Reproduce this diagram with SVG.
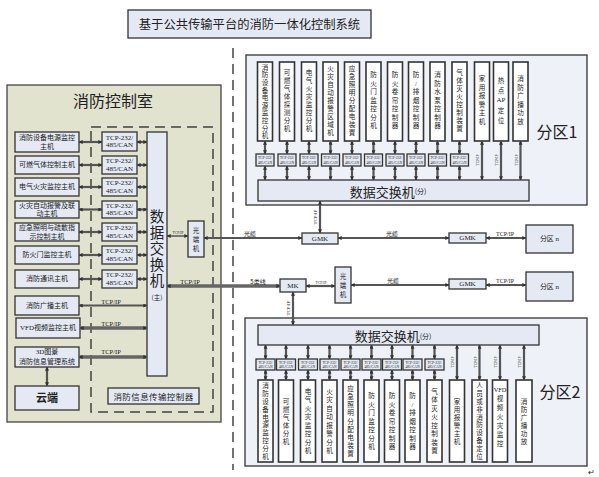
<svg xmlns="http://www.w3.org/2000/svg" width="599" height="477" viewBox="0 0 599 477">
<style>
text{font-family:"Liberation Serif","Noto Sans CJK SC",serif;fill:#222}
.cj{font-family:"Noto Sans CJK SC","Liberation Sans",sans-serif}
.m{text-anchor:middle;dominant-baseline:central}
.box{fill:#e4e9f4;stroke:#333;stroke-width:1.3}
.wb{fill:#fff;stroke:#333;stroke-width:1.6}
.pnl{fill:#eef1f7;stroke:#333;stroke-width:1.3}
.c{stroke:#555;stroke-width:2.2;fill:none;marker-start:url(#a);marker-end:url(#a)}
.th{stroke:#666;stroke-width:3.4}
.tn{stroke-width:1.5}
.dash{stroke:#444;stroke-width:1.5;stroke-dasharray:10 6;fill:none}
.s7{font-size:7px}.s4{font-size:3.6px}.sv{font-size:6.6px}.sl{font-size:5px}
</style>
<defs>
<marker id="a" viewBox="0 0 6 6" refX="5.5" refY="3" markerWidth="4" markerHeight="4" markerUnits="userSpaceOnUse" orient="auto-start-reverse"><path d="M0,0 L6,3 L0,6 z" fill="#333"/></marker>
</defs>
<rect width="599" height="477" fill="#fff"/>

<g id="title">
<rect x="128" y="10" width="243" height="28" class="box" fill="#eef0f5"/>
<text x="249.5" y="24" class="m cj" font-size="12.3">基于公共传输平台的消防一体化控制系统</text>
</g>

<line x1="233" y1="48" x2="233" y2="470" class="dash"/>

<g id="control-room">
<rect x="7" y="85" width="214" height="337" fill="#e1e3cf" stroke="#444" stroke-width="1.3"/>
<text x="113" y="100" class="m cj" font-size="16">消防控制室</text>
<rect x="91" y="127" width="122" height="285" class="dash"/>
</g>

<g id="cr-devices" class="cj">
<g id="cr1"><rect x="15" y="132" width="64" height="20" class="box"/><text x="47" y="138" class="m s7">消防设备电源监控</text><text x="47" y="146.5" class="m s7">主机</text></g>
<g id="cr2"><rect x="15" y="156" width="64" height="18" class="box"/><text x="47" y="165" class="m s7">可燃气体控制主机</text></g>
<g id="cr3"><rect x="15" y="178" width="64" height="18" class="box"/><text x="47" y="187" class="m s7">电气火灾监控主机</text></g>
<g id="cr4"><rect x="15" y="201" width="64" height="17" class="box"/><text x="47" y="205.5" class="m s7">火灾自动报警及联</text><text x="47" y="213.5" class="m s7">动主机</text></g>
<g id="cr5"><rect x="15" y="223" width="64" height="18" class="box"/><text x="47" y="228" class="m s7">应急照明与疏散指</text><text x="47" y="236.5" class="m s7">示控制主机</text></g>
<g id="cr6"><rect x="15" y="246" width="64" height="18" class="box"/><text x="47" y="255" class="m s7">防火门监控主机</text></g>
<g id="cr7"><rect x="15" y="270" width="64" height="18" class="box"/><text x="47" y="279" class="m s7">消防通讯主机</text></g>
<g id="cr8"><rect x="15" y="296" width="64" height="19" class="box"/><text x="47" y="305.5" class="m s7">消防广播主机</text></g>
<g id="cr9"><rect x="16" y="318" width="64" height="20" class="box"/><text x="48" y="328" class="m s7">VFD视频监控主机</text></g>
<g id="cr10"><rect x="15" y="347" width="64" height="20" class="box"/><text x="47" y="352" class="m s7">3D图景</text><text x="47" y="361.5" class="m s7">消防信息管理系统</text></g>
<g id="cloud"><rect x="15" y="386" width="64" height="24" class="box"/><text x="47" y="398" class="m" font-size="11" font-weight="bold">云端</text></g>
</g>

<g id="cr-tcp">
<g id="t1"><rect x="102" y="132" width="35" height="19" class="box"/><text x="119.5" y="137.5" class="m s7">TCP-232/</text><text x="119.5" y="145" class="m s7">485/CAN</text></g>
<g id="t2"><rect x="102" y="156" width="35" height="18" class="box"/><text x="119.5" y="161" class="m s7">TCP-232/</text><text x="119.5" y="168.5" class="m s7">485/CAN</text></g>
<g id="t3"><rect x="102" y="178" width="35" height="18" class="box"/><text x="119.5" y="183" class="m s7">TCP-232/</text><text x="119.5" y="190.5" class="m s7">485/CAN</text></g>
<g id="t4"><rect x="102" y="201" width="35" height="17" class="box"/><text x="119.5" y="205.5" class="m s7">TCP-232/</text><text x="119.5" y="213" class="m s7">485/CAN</text></g>
<g id="t5"><rect x="102" y="223" width="35" height="18" class="box"/><text x="119.5" y="228" class="m s7">TCP-232/</text><text x="119.5" y="235.5" class="m s7">485/CAN</text></g>
<g id="t6"><rect x="102" y="246" width="35" height="18" class="box"/><text x="119.5" y="251" class="m s7">TCP-232/</text><text x="119.5" y="258.5" class="m s7">485/CAN</text></g>
<g id="t7"><rect x="102" y="270" width="35" height="18" class="box"/><text x="119.5" y="275" class="m s7">TCP-232/</text><text x="119.5" y="282.5" class="m s7">485/CAN</text></g>
</g>

<g id="main-switch">
<rect x="147" y="132" width="20" height="244" class="box"/>
<text class="m cj" font-size="14.5" x="157 157 157 157 157" y="215 231 247 263 279">数据交换机</text>
<text x="157" y="297" class="m cj" font-size="6.5">(主)</text>
</g>

<g id="transmit-ctrl"><rect x="108" y="388" width="91" height="16" class="box"/><text x="153.5" y="396" class="m cj" font-size="8.5" letter-spacing="0.4">消防信息传输控制器</text></g>

<g id="oe1"><rect x="188" y="221" width="16" height="36" class="box"/><text class="m cj" font-size="6.5" x="196 196 196" y="230 239 248">光端机</text></g>
<g id="gmk1"><rect x="302" y="233" width="36" height="11" class="box"/><text x="320" y="238.5" class="m" font-size="7">GMK</text></g>
<g id="gmk2"><rect x="449" y="233" width="37" height="10" class="box"/><text x="467.5" y="238" class="m" font-size="7">GMK</text></g>
<g id="zn1"><rect x="526" y="225" width="47" height="28" class="box"/><text x="549.5" y="239" class="m" font-size="7">分区 n</text></g>
<g id="mk"><rect x="280" y="279" width="26" height="13" class="box"/><text x="293" y="285.5" class="m" font-size="7">MK</text></g>
<g id="oe2"><rect x="335" y="267" width="16" height="36" class="box"/><text class="m cj" font-size="6.5" x="343 343 343" y="276 285 294">光端机</text></g>
<g id="gmk3"><rect x="449" y="279" width="37" height="10" class="box"/><text x="467.5" y="284" class="m" font-size="7">GMK</text></g>
<g id="zn2"><rect x="526" y="272" width="47" height="29" class="box"/><text x="549.5" y="286.5" class="m" font-size="7">分区 n</text></g>

<g id="zone1">
<rect x="246" y="55" width="341" height="150" class="pnl"/>
<text x="557" y="131" class="m cj" font-size="16">分区1</text>
<g id="z1-switch"><rect x="258" y="180" width="271" height="21" class="box"/><text x="388" y="191" class="m cj" font-size="13">数据交换机<tspan font-size="7">(分)</tspan></text></g>
<g class="cj">
<g id="z1d1"><rect x="257.5" y="62" width="15" height="79" class="wb"/><text class="m sv" x="265 265 265 265 265 265 265 265 265 265" y="67.3 74.9 82.5 90.1 97.7 105.3 112.9 120.5 128.1 135.7">消防设备电源监控分机</text></g>
<g id="z1d2"><rect x="279.5" y="62" width="15" height="79" class="wb"/><text class="m sv" x="287 287 287 287 287 287 287 287" y="72 80 88 96 104 112 120 128">可燃气体探测分机</text></g>
<g id="z1d3"><rect x="301.5" y="62" width="15" height="79" class="wb"/><text class="m sv" x="309 309 309 309 309 309 309 309" y="72 80 88 96 104 112 120 128">电气火灾监控分机</text></g>
<g id="z1d4"><rect x="323" y="62" width="15" height="79" class="wb"/><text class="m sv" x="330.5 330.5 330.5 330.5 330.5 330.5 330.5 330.5 330.5" y="68 76 84 92 100 108 116 124 132">火灾自动报警区域机</text></g>
<g id="z1d5"><rect x="344.5" y="62" width="15" height="79" class="wb"/><text class="m sv" x="352 352 352 352 352 352 352 352 352" y="68 76 84 92 100 108 116 124 132">应急照明分配电装置</text></g>
<g id="z1d6"><rect x="366" y="62" width="15" height="79" class="wb"/><text class="m sv" x="373.5 373.5 373.5 373.5 373.5 373.5 373.5" y="74.5 83 91.5 100 108.5 117 125.5">防火门监控分机</text></g>
<g id="z1d7"><rect x="387.5" y="62" width="15" height="79" class="wb"/><text class="m sv" x="395 395 395 395 395 395 395" y="74.5 83 91.5 100 108.5 117 125.5">防火卷帘控制器</text></g>
<g id="z1d8"><rect x="408.5" y="62" width="15" height="79" class="wb"/><text class="m sv" x="416 416 416 416 416 416 416" y="74.5 83 91.5 100 108.5 117 125.5">防/排烟控制器</text></g>
<g id="z1d9"><rect x="430" y="62" width="15" height="79" class="wb"/><text class="m sv" x="437.5 437.5 437.5 437.5 437.5 437.5 437.5" y="74.5 83 91.5 100 108.5 117 125.5">消防水泵控制器</text></g>
<g id="z1d10"><rect x="452" y="62" width="15" height="79" class="wb"/><text class="m sv" x="459.5 459.5 459.5 459.5 459.5 459.5 459.5 459.5" y="72 80 88 96 104 112 120 128">气体灭火控制装置</text></g>
<g id="z1d11"><rect x="474.5" y="62" width="15" height="79" class="wb"/><text class="m sv" x="482 482 482 482 482 482" y="78.8 87.3 95.8 104.3 112.8 121.3">家用报警主机</text></g>
<g id="z1d12"><rect x="493.5" y="62" width="15" height="79" class="wb"/><text class="m sv"><tspan x="501" y="80">热</tspan><tspan x="501" y="90">点</tspan><tspan x="501" y="100" font-size="7">AP</tspan><tspan x="501" y="110">定</tspan><tspan x="501" y="120">位</tspan></text></g>
<g id="z1d13"><rect x="513" y="62" width="15" height="79" class="wb"/><text class="m sv" x="520.5 520.5 520.5 520.5 520.5 520.5" y="78.8 87.3 95.8 104.3 112.8 121.3">消防广播功放</text></g>
</g>
<g id="z1-tcp" class="s4">
<rect x="256" y="154" width="18" height="12" class="box"/><text x="265" y="158" class="m">TCP-232/</text><text x="265" y="162.5" class="m">485/CAN</text>
<rect x="278" y="154" width="18" height="12" class="box"/><text x="287" y="158" class="m">TCP-232/</text><text x="287" y="162.5" class="m">485/CAN</text>
<rect x="300" y="154" width="18" height="12" class="box"/><text x="309" y="158" class="m">TCP-232/</text><text x="309" y="162.5" class="m">485/CAN</text>
<rect x="321.5" y="154" width="18" height="12" class="box"/><text x="330.5" y="158" class="m">TCP-232/</text><text x="330.5" y="162.5" class="m">485/CAN</text>
<rect x="343" y="154" width="18" height="12" class="box"/><text x="352" y="158" class="m">TCP-232/</text><text x="352" y="162.5" class="m">485/CAN</text>
<rect x="364.5" y="154" width="18" height="12" class="box"/><text x="373.5" y="158" class="m">TCP-232/</text><text x="373.5" y="162.5" class="m">485/CAN</text>
<rect x="386" y="154" width="18" height="12" class="box"/><text x="395" y="158" class="m">TCP-232/</text><text x="395" y="162.5" class="m">485/CAN</text>
<rect x="407" y="154" width="18" height="12" class="box"/><text x="416" y="158" class="m">TCP-232/</text><text x="416" y="162.5" class="m">485/CAN</text>
<rect x="428.5" y="154" width="18" height="12" class="box"/><text x="437.5" y="158" class="m">TCP-232/</text><text x="437.5" y="162.5" class="m">485/CAN</text>
<rect x="450.5" y="154" width="18" height="12" class="box"/><text x="459.5" y="158" class="m">TCP-232/</text><text x="459.5" y="162.5" class="m">485/CAN</text>
</g>
</g>

<g id="zone2">
<rect x="245" y="318" width="342" height="148" class="pnl"/>
<text x="560" y="391" class="m cj" font-size="16">分区2</text>
<g id="z2-switch"><rect x="258" y="325" width="281" height="20" class="box"/><text x="393" y="335.5" class="m cj" font-size="13">数据交换机<tspan font-size="7">(分)</tspan></text></g>
<g class="cj">
<g id="z2d1"><rect x="258" y="380" width="15" height="82" class="wb"/><text class="m sv" x="265.5 265.5 265.5 265.5 265.5 265.5 265.5 265.5 265.5 265.5" y="385.9 393.7 401.5 409.3 417.1 424.9 432.7 440.5 448.3 456.1">消防设备电源监控分机</text></g>
<g id="z2d2"><rect x="278.5" y="380" width="15" height="82" class="wb"/><text class="m sv" x="286 286 286 286 286 286" y="401 409 417 425 433 441">可燃气体分机</text></g>
<g id="z2d3"><rect x="300.5" y="380" width="15" height="82" class="wb"/><text class="m sv" x="308 308 308 308 308 308 308 308" y="391.3 399.8 408.3 416.8 425.3 433.8 442.3 450.8">电气火灾监控分机</text></g>
<g id="z2d4"><rect x="322" y="380" width="15" height="82" class="wb"/><text class="m sv" x="329.5 329.5 329.5 329.5 329.5 329.5 329.5 329.5" y="391.3 399.8 408.3 416.8 425.3 433.8 442.3 450.8">火灾自动报警分机</text></g>
<g id="z2d5"><rect x="343" y="380" width="15" height="82" class="wb"/><text class="m sv" x="350.5 350.5 350.5 350.5 350.5 350.5 350.5 350.5 350.5" y="388.2 396.4 404.6 412.8 421 429.2 437.4 445.6 453.8">应急照明分配电装置</text></g>
<g id="z2d6"><rect x="364" y="380" width="15" height="82" class="wb"/><text class="m sv" x="371.5 371.5 371.5 371.5 371.5 371.5 371.5" y="395.5 404 412.5 421 429.5 438 446.5">防火门监控分机</text></g>
<g id="z2d7"><rect x="384.5" y="380" width="15" height="82" class="wb"/><text class="m sv" x="392 392 392 392 392 392 392" y="395.5 404 412.5 421 429.5 438 446.5">防火卷帘控制器</text></g>
<g id="z2d8"><rect x="405" y="380" width="15" height="82" class="wb"/><text class="m sv" x="412.5 412.5 412.5 412.5 412.5 412.5 412.5" y="395.5 404 412.5 421 429.5 438 446.5">防/排烟控制器</text></g>
<g id="z2d9"><rect x="427" y="380" width="15" height="82" class="wb"/><text class="m sv" x="434.5 434.5 434.5 434.5 434.5 434.5 434.5 434.5" y="391.3 399.8 408.3 416.8 425.3 433.8 442.3 450.8">气体灭火控制装置</text></g>
<g id="z2d10"><rect x="449.5" y="380" width="15" height="82" class="wb"/><text class="m sv" x="457 457 457 457 457 457" y="401 409 417 425 433 441">家用报警主机</text></g>
<g id="z2d11"><rect x="472" y="380" width="15" height="82" class="wb"/><text class="m sv" x="479.5 479.5 479.5 479.5 479.5 479.5 479.5 479.5 479.5 479.5" y="385.9 393.7 401.5 409.3 417.1 424.9 432.7 440.5 448.3 456.1">人员或非消防设备定位</text></g>
<g id="z2d12"><rect x="492.5" y="380" width="15" height="82" class="wb"/><text class="m sv"><tspan x="500" y="389" font-size="6.3">VFD</tspan><tspan x="500" y="398">视</tspan><tspan x="500" y="407">频</tspan><tspan x="500" y="416">火</tspan><tspan x="500" y="425">灾</tspan><tspan x="500" y="434">监</tspan><tspan x="500" y="443">控</tspan></text></g>
<g id="z2d13"><rect x="516" y="380" width="16" height="82" class="wb"/><text class="m sv" x="524 524 524 524 524 524" y="401 409 417 425 433 441">消防广播功放</text></g>
</g>
<g id="z2-tcp" class="s4">
<rect x="256" y="359" width="19" height="11" class="box"/><text x="265.5" y="362.8" class="m">TCP-232/</text><text x="265.5" y="367" class="m">485/CAN</text>
<rect x="276.5" y="359" width="19" height="11" class="box"/><text x="286" y="362.8" class="m">TCP-232/</text><text x="286" y="367" class="m">485/CAN</text>
<rect x="298.5" y="359" width="19" height="11" class="box"/><text x="308" y="362.8" class="m">TCP-232/</text><text x="308" y="367" class="m">485/CAN</text>
<rect x="320" y="359" width="19" height="11" class="box"/><text x="329.5" y="362.8" class="m">TCP-232/</text><text x="329.5" y="367" class="m">485/CAN</text>
<rect x="341" y="359" width="19" height="11" class="box"/><text x="350.5" y="362.8" class="m">TCP-232/</text><text x="350.5" y="367" class="m">485/CAN</text>
<rect x="362" y="359" width="19" height="11" class="box"/><text x="371.5" y="362.8" class="m">TCP-232/</text><text x="371.5" y="367" class="m">485/CAN</text>
<rect x="382.5" y="359" width="19" height="11" class="box"/><text x="392" y="362.8" class="m">TCP-232/</text><text x="392" y="367" class="m">485/CAN</text>
<rect x="403" y="359" width="19" height="11" class="box"/><text x="412.5" y="362.8" class="m">TCP-232/</text><text x="412.5" y="367" class="m">485/CAN</text>
<rect x="425" y="359" width="19" height="11" class="box"/><text x="434.5" y="362.8" class="m">TCP-232/</text><text x="434.5" y="367" class="m">485/CAN</text>
</g>
</g>

<g id="connectors">
<g class="c">
<line x1="79" y1="142" x2="102" y2="142"/><line x1="137" y1="142" x2="147" y2="142"/>
<line x1="79" y1="165" x2="102" y2="165"/><line x1="137" y1="165" x2="147" y2="165"/>
<line x1="79" y1="187" x2="102" y2="187"/><line x1="137" y1="187" x2="147" y2="187"/>
<line x1="79" y1="209.5" x2="102" y2="209.5"/><line x1="137" y1="209.5" x2="147" y2="209.5"/>
<line x1="79" y1="232" x2="102" y2="232"/><line x1="137" y1="232" x2="147" y2="232"/>
<line x1="79" y1="255" x2="102" y2="255"/><line x1="137" y1="255" x2="147" y2="255"/>
<line x1="79" y1="279" x2="102" y2="279"/><line x1="137" y1="279" x2="147" y2="279"/>
<line x1="79" y1="305.5" x2="147" y2="305.5"/>
<line x1="80" y1="328" x2="147" y2="328" class="th"/>
<line x1="79" y1="357" x2="147" y2="357" class="th"/>
<line x1="47" y1="367" x2="47" y2="386"/>
<line x1="167" y1="236" x2="188" y2="236" class="tn"/>
<line x1="204" y1="238" x2="302" y2="238"/>
<line x1="338" y1="238" x2="449" y2="238"/>
<line x1="486" y1="238" x2="526" y2="238"/>
<line x1="320" y1="233" x2="320" y2="201"/>
<line x1="167" y1="286" x2="280" y2="286" class="th"/>
<line x1="306" y1="286" x2="335" y2="286"/>
<line x1="351" y1="285" x2="449" y2="285"/>
<line x1="486" y1="285" x2="526" y2="285"/>
<line x1="293" y1="292" x2="293" y2="325"/>
<line x1="265" y1="141" x2="265" y2="154"/><line x1="265" y1="166" x2="265" y2="180"/>
<line x1="287" y1="141" x2="287" y2="154"/><line x1="287" y1="166" x2="287" y2="180"/>
<line x1="309" y1="141" x2="309" y2="154"/><line x1="309" y1="166" x2="309" y2="180"/>
<line x1="330.5" y1="141" x2="330.5" y2="154"/><line x1="330.5" y1="166" x2="330.5" y2="180"/>
<line x1="352" y1="141" x2="352" y2="154"/><line x1="352" y1="166" x2="352" y2="180"/>
<line x1="373.5" y1="141" x2="373.5" y2="154"/><line x1="373.5" y1="166" x2="373.5" y2="180"/>
<line x1="395" y1="141" x2="395" y2="154"/><line x1="395" y1="166" x2="395" y2="180"/>
<line x1="416" y1="141" x2="416" y2="154"/><line x1="416" y1="166" x2="416" y2="180"/>
<line x1="437.5" y1="141" x2="437.5" y2="154"/><line x1="437.5" y1="166" x2="437.5" y2="180"/>
<line x1="459.5" y1="141" x2="459.5" y2="154"/><line x1="459.5" y1="166" x2="459.5" y2="180"/>
<line x1="482" y1="141" x2="482" y2="180"/>
<line x1="501" y1="141" x2="501" y2="180"/>
<line x1="520.5" y1="141" x2="520.5" y2="180"/>
<line x1="265.5" y1="345" x2="265.5" y2="359"/><line x1="265.5" y1="370" x2="265.5" y2="380"/>
<line x1="286" y1="345" x2="286" y2="359"/><line x1="286" y1="370" x2="286" y2="380"/>
<line x1="308" y1="345" x2="308" y2="359"/><line x1="308" y1="370" x2="308" y2="380"/>
<line x1="329.5" y1="345" x2="329.5" y2="359"/><line x1="329.5" y1="370" x2="329.5" y2="380"/>
<line x1="350.5" y1="345" x2="350.5" y2="359"/><line x1="350.5" y1="370" x2="350.5" y2="380"/>
<line x1="371.5" y1="345" x2="371.5" y2="359"/><line x1="371.5" y1="370" x2="371.5" y2="380"/>
<line x1="392" y1="345" x2="392" y2="359"/><line x1="392" y1="370" x2="392" y2="380"/>
<line x1="412.5" y1="345" x2="412.5" y2="359"/><line x1="412.5" y1="370" x2="412.5" y2="380"/>
<line x1="434.5" y1="345" x2="434.5" y2="359"/><line x1="434.5" y1="370" x2="434.5" y2="380"/>
<line x1="457" y1="345" x2="457" y2="380"/>
<line x1="479.5" y1="345" x2="479.5" y2="380"/>
<line x1="500" y1="345" x2="500" y2="380"/>
<line x1="524" y1="345" x2="524" y2="380"/>
</g>
<g id="conn-labels">
<text x="111" y="301" class="m" font-size="6.5">TCP/IP</text>
<text x="111" y="323.5" class="m" font-size="6.5">TCP/IP</text>
<text x="111" y="351.5" class="m" font-size="6.5">TCP/IP</text>
<text x="178" y="233" class="m" font-size="3.6">TCP/IP</text>
<text x="250" y="233.5" class="m cj" font-size="6">光缆</text>
<text x="392" y="233.5" class="m cj" font-size="6">光缆</text>
<text x="505" y="233.5" class="m" font-size="6">TCP/IP</text>
<text x="190" y="281.5" class="m" font-size="6.5">TCP/IP</text>
<text x="258" y="281.5" class="m cj" font-size="6">5类线</text>
<text x="321" y="282.5" class="m" font-size="3.6">TCP/IP</text>
<text x="393" y="280.5" class="m cj" font-size="6">光缆</text>
<text x="505" y="280.5" class="m" font-size="6">TCP/IP</text>
<text x="315" y="217" class="m sl" transform="rotate(-90 315 217)">TCP/IP</text>
<text x="288" y="308" class="m sl" transform="rotate(-90 288 308)">TCP/IP</text>
<text x="478" y="160" class="m s4" transform="rotate(-90 478 160)">TCP/IP</text>
<text x="497" y="160" class="m s4" transform="rotate(-90 497 160)">TCP/IP</text>
<text x="516.5" y="160" class="m s4" transform="rotate(-90 516.5 160)">TCP/IP</text>
<text x="453" y="362" class="m s4" transform="rotate(-90 453 362)">TCP/IP</text>
<text x="475.5" y="362" class="m s4" transform="rotate(-90 475.5 362)">TCP/IP</text>
<text x="496" y="362" class="m s4" transform="rotate(-90 496 362)">TCP/IP</text>
<text x="520" y="362" class="m s4" transform="rotate(-90 520 362)">TCP/IP</text>
</g>
</g>
<text x="591" y="472" class="m" font-size="8" fill="#666">↵</text>
</svg>
